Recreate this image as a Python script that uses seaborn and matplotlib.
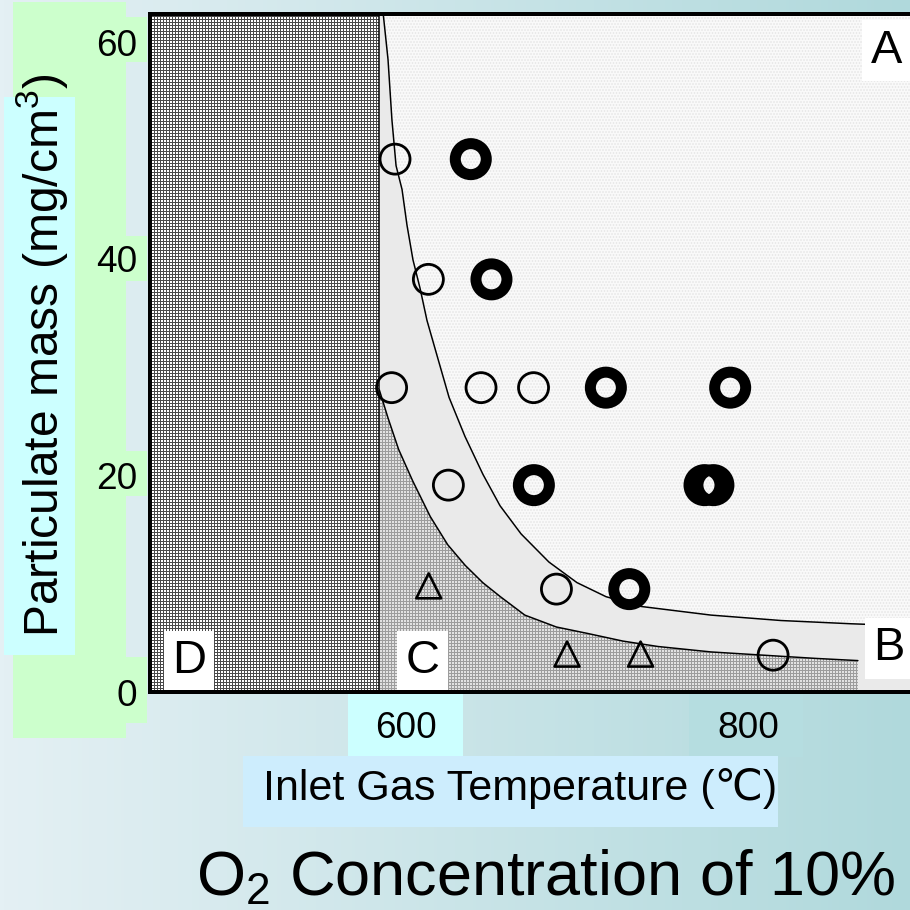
import numpy as np
import pandas as pd
import matplotlib
matplotlib.use("Agg")
import matplotlib.pyplot as plt
from matplotlib.patches import Rectangle
from matplotlib.ticker import FixedLocator, MultipleLocator
import seaborn as sns

# ============================
# DATA
# ============================
open_temp = [593.3, 612.8, 591.3, 643.6, 674.3, 624.5, 687.7, 814.4]
open_mass = [49.2, 38.1, 28.1, 28.1, 28.1, 19.1, 9.5, 3.4]

ring_temp = [637.6, 649.7, 716.6, 789.3, 674.5, 774.3, 779.5, 730.3]
ring_mass = [49.2, 38.1, 28.1, 28.1, 19.1, 19.1, 19.1, 9.5]

tri_temp = [613.0, 693.9, 736.9]
tri_mass = [9.8, 3.5, 3.5]

# upper boundary (A / B)
upper_temp = [586.4, 589.2, 591.5, 593.9, 597.4, 600.3, 603.8, 607.9, 612.0,
              617.8, 624.9, 634.2, 644.7, 654.7, 667.0, 683.3, 699.7, 716.7,
              737.1, 757.6, 778.1, 819.0, 860.0, 894.5, 910.0]
upper_mass = [62.6, 58.4, 52.8, 48.6, 46.4, 43.1, 39.9, 37.3, 34.3,
              31.1, 27.2, 23.6, 20.1, 17.2, 14.6, 12.0, 10.1, 8.8,
              7.9, 7.5, 7.1, 6.6, 6.3, 6.1, 6.0]

# lower boundary (B / C)
lower_temp = [584.1, 589.2, 595.4, 603.6, 613.9, 624.1, 634.3, 644.6, 654.9,
              669.2, 687.7, 706.1, 726.6, 747.1, 778.0, 808.7, 839.5, 864.0]
lower_mass = [27.9, 25.3, 22.4, 19.5, 16.2, 13.6, 11.7, 10.1, 8.8,
              7.1, 6.0, 5.4, 4.7, 4.2, 3.7, 3.4, 3.1, 2.9]

boundary_temp = 584.0  # D / C limit

region_names = ["A", "B", "C", "D"]
region_temp = [880.7, 882.2, 609.4, 472.8]
region_mass = [58.1, 2.95, 1.75, 1.75]

x_ticks = [600, 800]
y_ticks = [0, 20, 40, 60]

# ============================
# STYLE
# ============================
sns.set_style("ticks")
plt.rcParams["font.family"] = ["Liberation Sans", "DejaVu Sans"]
plt.rcParams["mathtext.fontset"] = "custom"
plt.rcParams["mathtext.rm"] = "Liberation Sans"
plt.rcParams["mathtext.it"] = "Liberation Sans:italic"
plt.rcParams["mathtext.bf"] = "Liberation Sans:bold"
plt.rcParams["hatch.linewidth"] = 1.0
plt.rcParams["text.color"] = "black"
plt.rcParams["xtick.color"] = "black"
plt.rcParams["ytick.color"] = "black"
plt.rcParams["xtick.labelcolor"] = "black"
plt.rcParams["ytick.labelcolor"] = "black"

W = 910
fig = plt.figure(figsize=(W / 72, W / 72), dpi=72)

# background gradient + coloured label boxes (pixel coords)
bg = fig.add_axes([0, 0, 1, 1], zorder=-10)
grad = np.linspace(0, 1, 256)[None, :]
bg.imshow(grad, aspect="auto", extent=[0, W, W, 0],
          cmap=matplotlib.colors.LinearSegmentedColormap.from_list(
              "bg", ["#e4f0f4", "#b0d9dc"]))
bg.set_xlim(0, W)
bg.set_ylim(W, 0)
bg.axis("off")

boxes = [
    ((13, 2), 113, 736, "#ccffcc"),
    ((126, 17), 21, 45, "#ccffcc"),
    ((126, 236), 21, 45, "#ccffcc"),
    ((126, 451), 21, 45, "#ccffcc"),
    ((126, 657), 21, 66, "#ccffcc"),
    ((4, 97), 71, 558, "#ccffff"),
    ((348, 692), 115, 66, "#ccffff"),
    ((689, 692), 114, 65, "#b5dde0"),
    ((243, 756), 535, 71, "#cdedfd"),
]
for xy, w, h, c in boxes:
    bg.add_patch(Rectangle(xy, w, h, facecolor=c, edgecolor="none"))

# ============================
# MAIN AXES
# ============================
ax = fig.add_axes([150 / W, (W - 692) / W, 778 / W, 678 / W])
ax.set_xlim(450, 905)
ax.set_ylim(0, 62.6)

# regions
ax.axvspan(boundary_temp, 905, facecolor="#f4f4f4", edgecolor="#e2e2e2",
           hatch="------", linewidth=0, zorder=0.5)
ax.fill_between(lower_temp, 0, lower_mass, facecolor="#e2e2e2",
                edgecolor="#9c9c9c", hatch="++++", linewidth=0, zorder=0.6)
ax.fill_between(upper_temp, upper_mass, 62.6, facecolor="#f9f9f9",
                edgecolor="#e4e4e4", hatch="....", linewidth=0, zorder=0.7)
ax.axvspan(450, boundary_temp, facecolor="white", edgecolor="#4a4a4a",
           hatch="++++", linewidth=0, zorder=0.8)
ax.axvline(boundary_temp, color="black", lw=1.5, zorder=1)

curves = pd.concat([
    pd.DataFrame({"temp": upper_temp, "mass": upper_mass, "curve": "upper"}),
    pd.DataFrame({"temp": lower_temp, "mass": lower_mass, "curve": "lower"}),
])
sns.lineplot(data=curves, x="temp", y="mass", units="curve", estimator=None,
             sort=False, color="black", lw=1.5, ax=ax, zorder=2)

sns.scatterplot(x=open_temp, y=open_mass, marker="o", s=900,
                facecolor="none", edgecolor="black", linewidth=2.8,
                ax=ax, zorder=4)
sns.scatterplot(x=ring_temp, y=ring_mass, marker="o", s=961,
                facecolor="none", edgecolor="black", linewidth=11,
                ax=ax, zorder=4)
sns.scatterplot(x=tri_temp, y=tri_mass, marker="^", s=620,
                facecolor="none", edgecolor="black", linewidth=2.6,
                ax=ax, zorder=4)

for name, t, m in zip(region_names, region_temp, region_mass):
    ax.text(t, m, name, fontsize=47, ha="center", va="baseline", zorder=5,
            bbox=dict(boxstyle="square,pad=0.18", facecolor="white",
                      edgecolor="none"))

# axes styling
for side in ["left", "bottom", "top"]:
    ax.spines[side].set_linewidth(4)
    ax.spines[side].set_color("black")
    ax.spines[side].set_zorder(6)
ax.spines["right"].set_visible(False)

ax.xaxis.set_major_locator(FixedLocator(x_ticks))
ax.xaxis.set_minor_locator(MultipleLocator(50))
ax.yaxis.set_major_locator(FixedLocator(y_ticks))
ax.yaxis.set_minor_locator(MultipleLocator(10))
ax.tick_params(which="both", direction="in", length=15, width=2,
               top=False, right=False, color="black")
ax.tick_params(axis="x", which="major", labelsize=37, pad=19)
ax.tick_params(axis="y", which="major", labelsize=37, pad=13)
ax.set_xlabel("")
ax.set_ylabel("")

fig.text(42 / W, 1 - 355 / W, "Particulate mass (mg/cm$^3$)", fontsize=48,
         rotation=90, ha="center", va="center")
fig.text(520 / W, 1 - 800 / W, "Inlet Gas Temperature (\u2103)", fontsize=43,
         ha="center", va="baseline")
fig.text(895 / W, 1 - 895 / W, "O$_2$ Concentration of 10%", fontsize=63,
         ha="right", va="baseline")

fig.savefig("out.png", dpi=72)
